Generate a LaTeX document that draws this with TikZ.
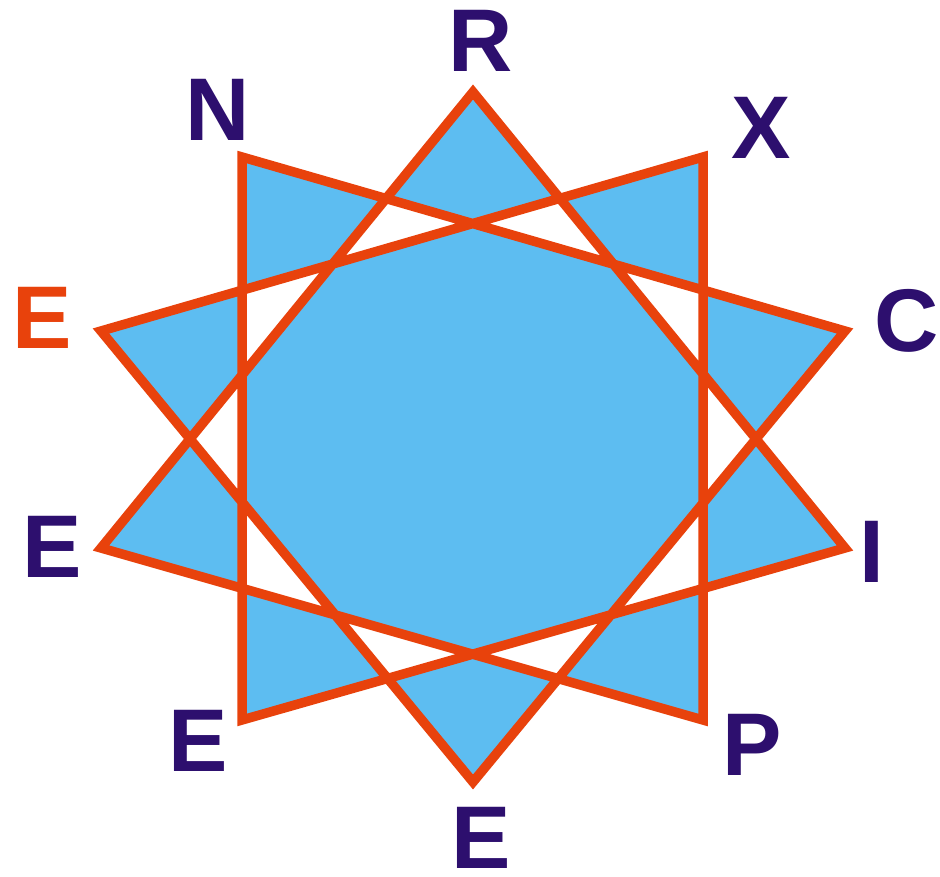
\documentclass[tikz,border=0pt]{standalone}
\usepackage{fontspec}
\setmainfont{Liberation Sans}
\usetikzlibrary{positioning}
\definecolor{starblue}{HTML}{5DBDF1}
\definecolor{edgeorange}{HTML}{E8420C}
\definecolor{letterpurple}{HTML}{2D0F6E}

\begin{document}
\begin{tikzpicture}[x=1pt,y=-1pt,
 star/.style={fill=starblue,draw=edgeorange,line width=9.5pt,even odd rule,line join=miter},
 lab/.style={font=\fontsize{89}{89}\selectfont\bfseries,text=letterpurple,inner sep=0pt}]
\useasboundingbox (0,0) rectangle (940,877);
% Ten tips of the star, clockwise from the top.
\foreach \nm/\x/\y in {r/473/92,x/703/157,c/845/331,i/845/548,p/703/720,
                       eb/473/782,el/242/720,ew/101/548,eu/101/331,n/242/157}
  \coordinate (\nm) at (\x,\y);
% {10/3} star: every third tip is joined.
\path[star] (r) -- (i) -- (el) -- (n) -- (c) -- (eb) -- (eu) -- (x) -- (p) -- (ew) -- cycle;
% Letters round the star.
\node[lab] (labr) at (481,41) {R};
\node[lab] (labx) at (761,128) {X};
\node[lab] (labc) at (907,321) {C};
\node[lab] (labi) at (872,552) {I};
\node[lab] (labp) at (752,745) {P};
\node[lab] (labeb) at (481,838) {E};
\node[lab] (label) at (198,741) {E};
\node[lab] (labew) at (52,547) {E};
\node[lab,text=edgeorange] (labeu) at (42,318) {E};
\node[lab] (labn) at (218,110) {N};
\end{tikzpicture}
\end{document}
